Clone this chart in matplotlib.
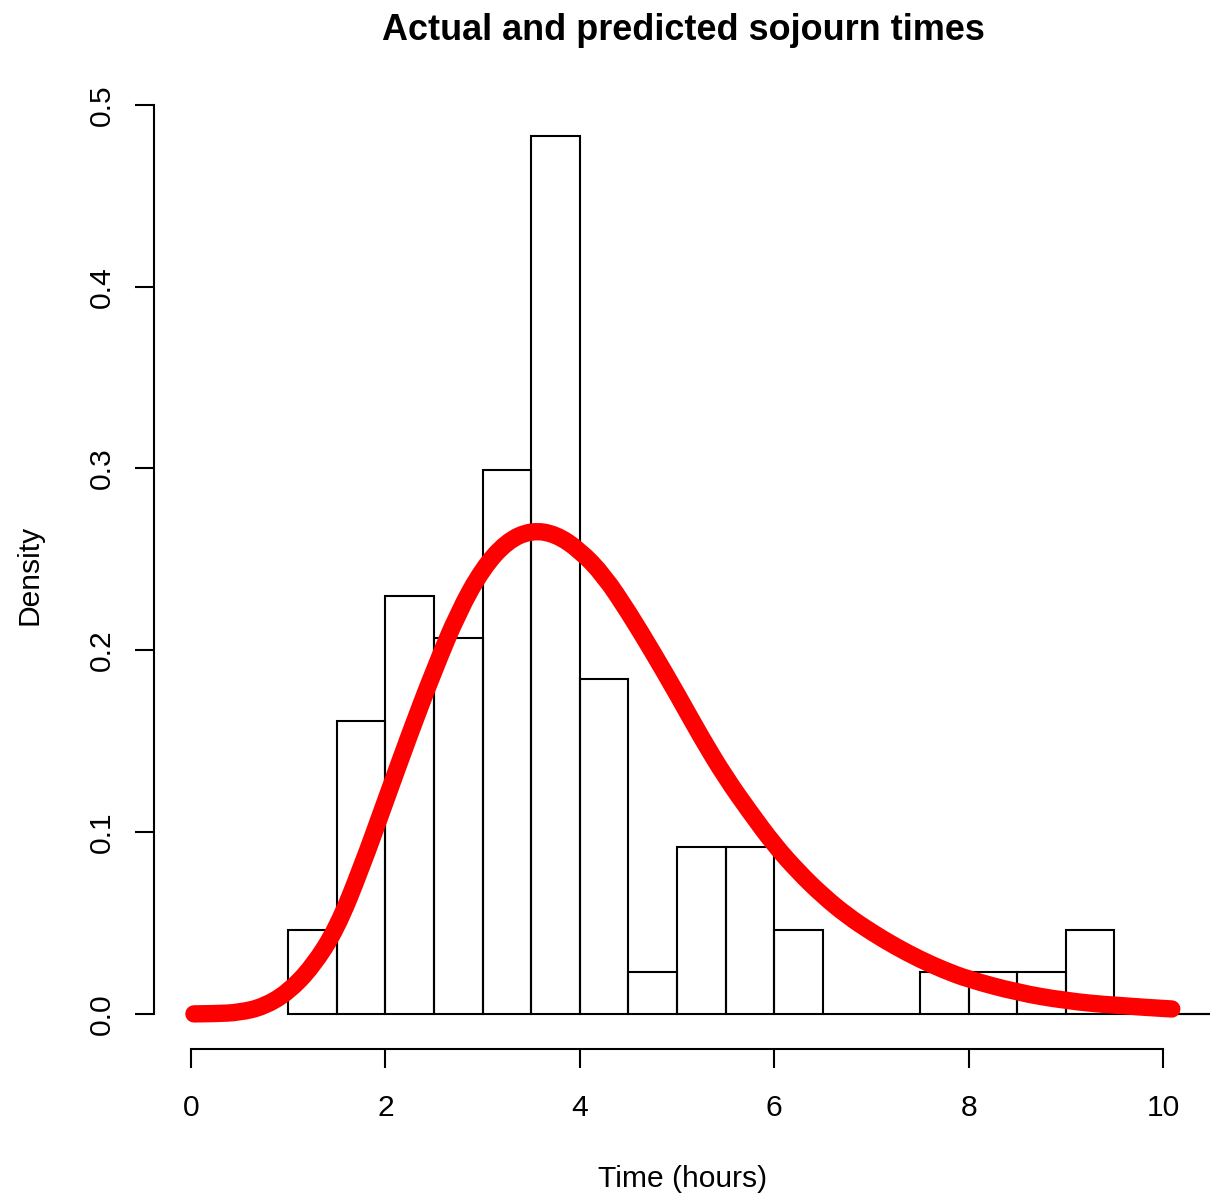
import matplotlib
matplotlib.use("Agg")
import matplotlib.pyplot as plt
from matplotlib.path import Path
from matplotlib.patches import PathPatch

plt.rcParams['font.family'] = ['Liberation Sans', 'DejaVu Sans']

# Histogram (density) data: bin left edges (width 0.5) and densities
bin_left = [1.0, 1.5, 2.0, 2.5, 3.0, 3.5, 4.0, 4.5, 5.0, 5.5, 6.0, 6.5, 7.0,
            7.5, 8.0, 8.5, 9.0, 9.5, 10.0, 10.5]
density = [0.046, 0.161, 0.230, 0.207, 0.299, 0.4828, 0.184, 0.023, 0.092, 0.092,
           0.046, 0.0, 0.0, 0.023, 0.023, 0.023, 0.046, 0.0, 0.0, 0.0]
bin_width = 0.5

# Predicted density curve
curve_x = [0.03, 0.25, 0.5, 0.75, 1.0, 1.25, 1.5, 1.75, 2.0, 2.25, 2.5, 2.75, 3.0,
           3.25, 3.5, 3.75, 4.0, 4.25, 4.5, 4.75, 5.0, 5.25, 5.5, 5.75, 6.0,
           6.25, 6.5, 6.75, 7.0, 7.25, 7.5, 7.75, 8.0, 8.5, 9.0, 9.5, 10.09]
curve_y = [0.0, 0.0001, 0.0008, 0.004, 0.012, 0.026, 0.047, 0.080, 0.117, 0.154,
           0.189, 0.221, 0.245, 0.260, 0.266, 0.264, 0.255, 0.241, 0.221, 0.199,
           0.176, 0.152, 0.130, 0.111, 0.093, 0.078, 0.065, 0.054, 0.045, 0.037,
           0.030, 0.024, 0.019, 0.0118, 0.0072, 0.0046, 0.0027]

x_ticks = [0, 2, 4, 6, 8, 10]
y_ticks = [0.0, 0.1, 0.2, 0.3, 0.4, 0.5]
y_tick_labels = ["0.0", "0.1", "0.2", "0.3", "0.4", "0.5"]

W, H = 1210, 1198
fig = plt.figure(figsize=(W / 100, H / 100), dpi=100)
ax = fig.add_axes([154 / W, 1 - 1049 / H, 1059 / W, 948 / H])

ax.bar(bin_left, density, width=bin_width, align='edge', fill=False,
       edgecolor='black', linewidth=1.5, zorder=2)

# smooth rendering of the curve through the read points (quadratic Bezier path)
pts = list(zip(curve_x, curve_y))
verts = [pts[0]]
codes = [Path.MOVETO]
for i in range(1, len(pts) - 1):
    mid = ((pts[i][0] + pts[i + 1][0]) / 2, (pts[i][1] + pts[i + 1][1]) / 2)
    if i == len(pts) - 2:
        mid = pts[-1]
    verts += [pts[i], mid]
    codes += [Path.CURVE3, Path.CURVE3]
path = Path(verts, codes)
ax.add_patch(PathPatch(path, fill=False, edgecolor='#ff0000', linewidth=12.5,
                       capstyle='round', joinstyle='round', zorder=3))

ymax = max(density)
ax.set_xlim(-0.381, 10.514)
ax.set_ylim(-0.04 * ymax, 1.04 * ymax)

for s in ['top', 'right']:
    ax.spines[s].set_visible(False)
ax.spines['bottom'].set_bounds(0, 10)
ax.spines['left'].set_bounds(0, 0.5)
for s in ['bottom', 'left']:
    ax.spines[s].set_linewidth(1.5)

ax.set_xticks(x_ticks)
ax.set_xticklabels([str(v) for v in x_ticks])
ax.set_yticks(y_ticks)
ax.set_yticklabels(y_tick_labels, rotation=90, va='center')
ax.tick_params(axis='both', direction='out', length=13.5, width=1.5,
               labelsize=21.6, colors='black')
ax.tick_params(axis='x', pad=19)
ax.tick_params(axis='y', pad=14)
ax.patch.set_visible(False)

fig.text(683 / W, 1 - 40 / H, "Actual and predicted sojourn times",
         ha='center', va='baseline', fontsize=25.9, fontweight='bold')
fig.text(683 / W, 1 - 1187 / H, "Time (hours)", ha='center', va='baseline',
         fontsize=21.6)
fig.text(38 / W, 1 - 575 / H, "Density", ha='center', va='baseline',
         rotation=90, rotation_mode='anchor', fontsize=21.6)

fig.savefig("out.png", dpi=100)
